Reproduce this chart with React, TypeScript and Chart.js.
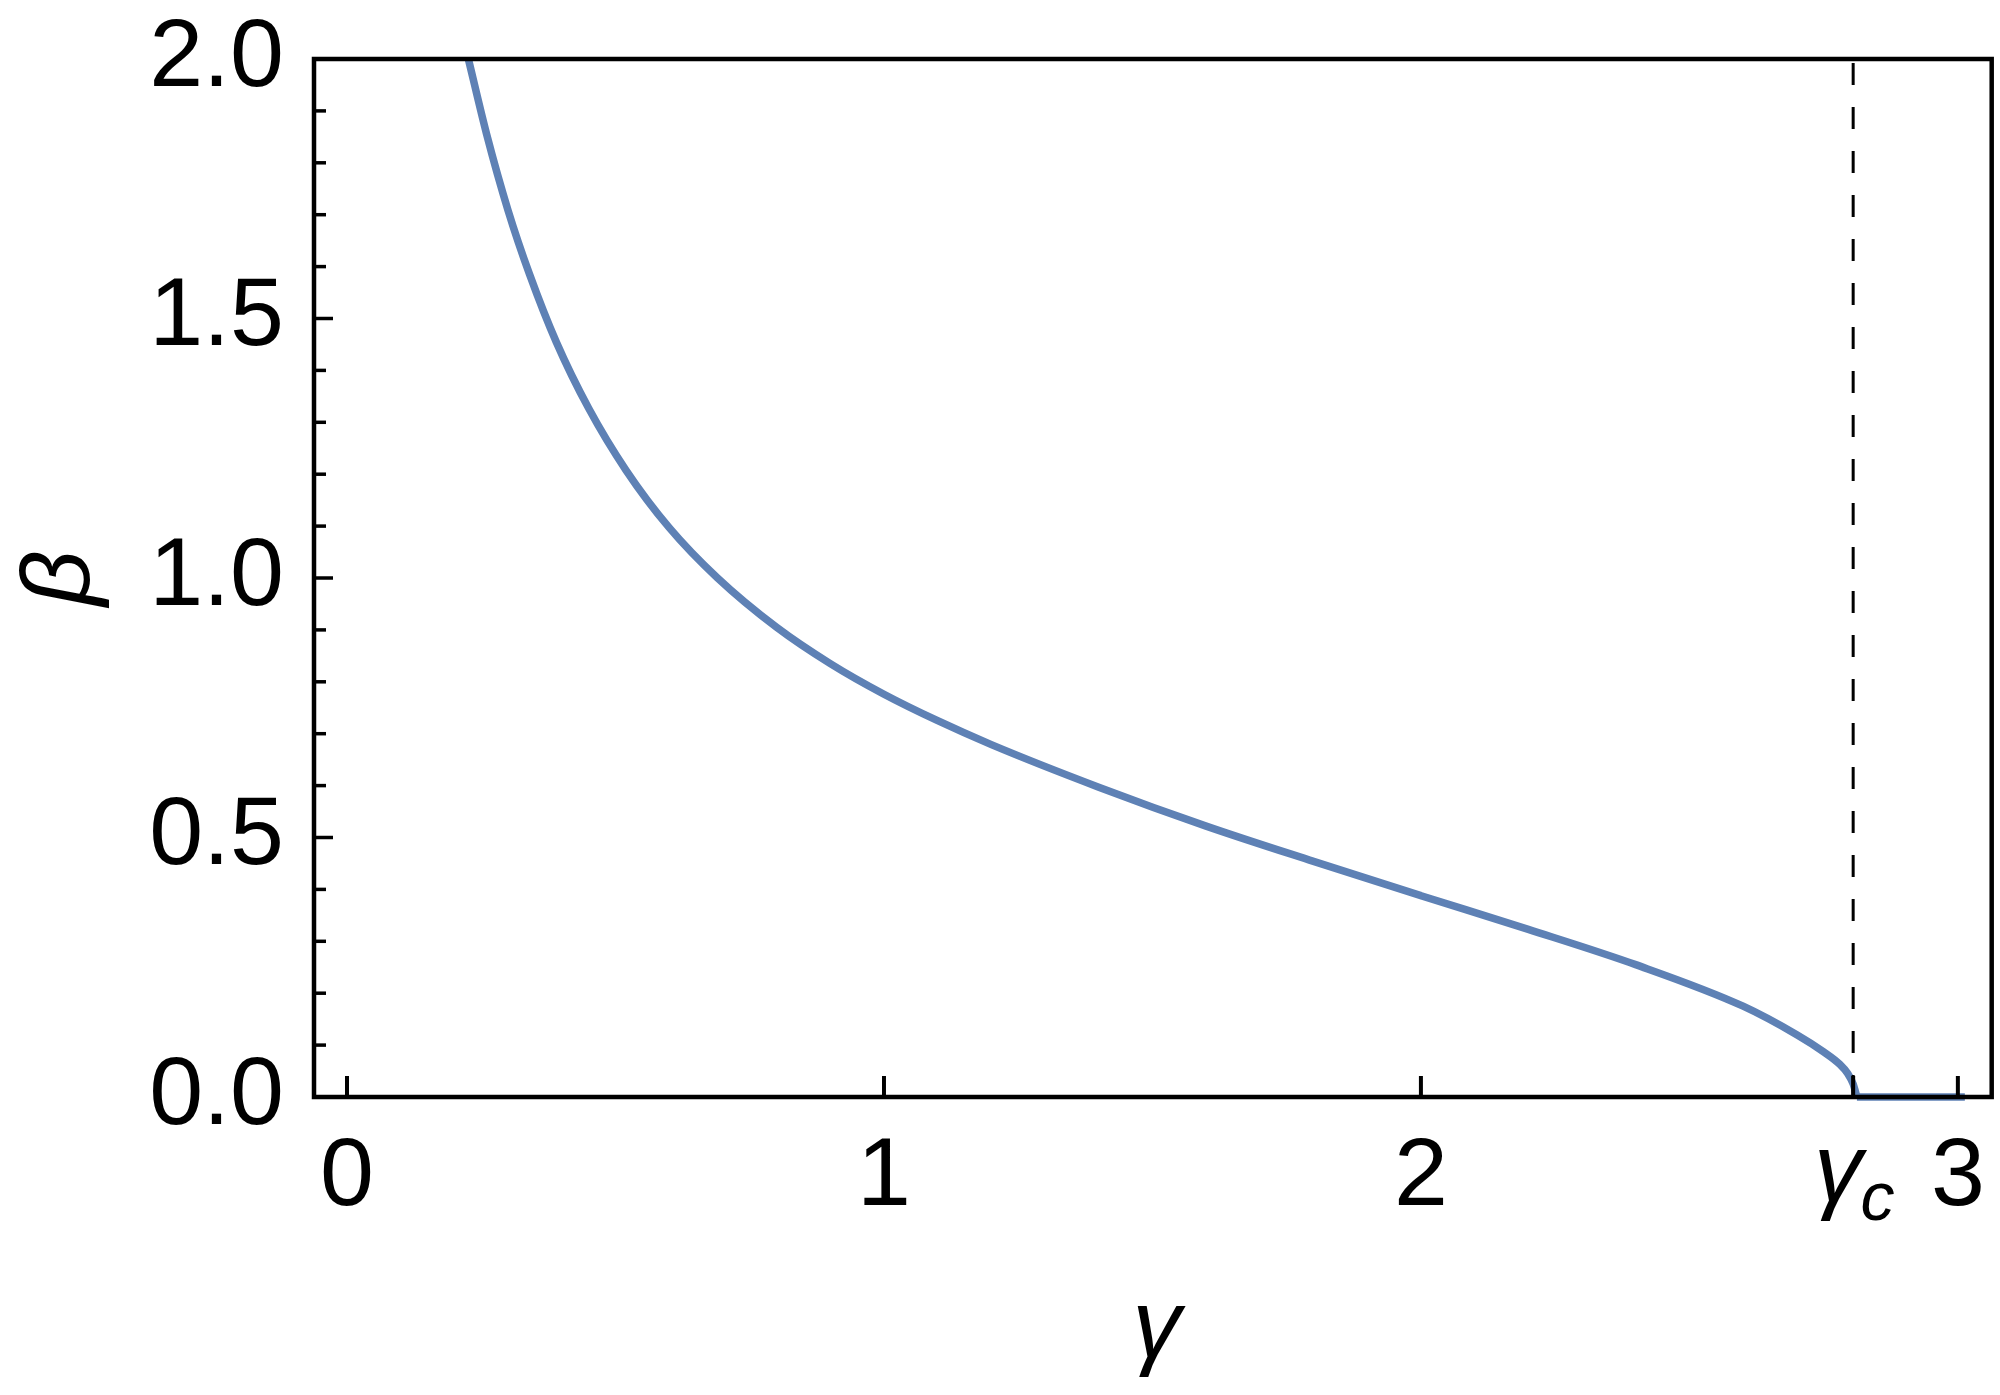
import React, { useEffect, useRef } from 'react';
import { Chart, registerables } from 'chart.js';

Chart.register(...registerables);

// ---- data ----
const gammaValues = [0.226, 0.26, 0.3, 0.34, 0.39, 0.45, 0.52, 0.6, 0.69, 0.8, 0.9, 1.0, 1.1, 1.2, 1.4, 1.6, 1.8, 2.0, 2.2, 2.4, 2.6, 2.7, 2.75, 2.78, 2.795, 2.805, 2.812];
const betaValues = [2.0, 1.855, 1.708, 1.585, 1.454, 1.327, 1.207, 1.097, 1.0, 0.905, 0.835, 0.776, 0.725, 0.679, 0.597, 0.522, 0.454, 0.388, 0.323, 0.255, 0.175, 0.12, 0.087, 0.063, 0.045, 0.025, 0];
const gammaTail = [2.812, 3.013];
const betaTail = [0, 0];
const gammaCritical = 2.805;

const xTickValues = [0, 1, 2, 3];
const xTickLabels = ['0', '1', '2', '3'];
const yTickValues = [0, 0.5, 1, 1.5, 2];
const yTickLabels = ['0.0', '0.5', '1.0', '1.5', '2.0'];
const yMinorStep = 0.1;

const xAxisTitle = 'γ';
const yAxisTitle = 'β';
const criticalMain = 'γ';
const criticalSub = 'c';

const X_MIN = -0.0615;
const X_MAX = 3.063;
const Y_MIN = 0;
const Y_MAX = 2;

const W = 2000;
const H = 1395;
const FONT = '"Liberation Sans", Arial, Helvetica, sans-serif';
const FONT_SIZE = 97;
const LINE_COLOR = '#5E81B5';

const decorPlugin = {
  id: 'decor',
  afterDatasetsDraw(chart: any) {
    const { ctx, chartArea: a, scales } = chart;
    const x = scales.x;
    const y = scales.y;
    ctx.save();
    ctx.strokeStyle = '#000';
    ctx.fillStyle = '#000';

    // dashed critical line
    const xc = x.getPixelForValue(gammaCritical);
    ctx.lineWidth = 3;
    ctx.setLineDash([22, 22]);
    ctx.beginPath();
    ctx.moveTo(xc, a.bottom);
    ctx.lineTo(xc, a.top);
    ctx.stroke();
    ctx.setLineDash([]);

    // y ticks (inward), major + minor
    ctx.lineWidth = 3.5;
    const n = Math.round((Y_MAX - Y_MIN) / yMinorStep);
    for (let i = 0; i <= n; i++) {
      const v = Y_MIN + i * yMinorStep;
      const isMajor = yTickValues.some((t) => Math.abs(t - v) < 1e-6);
      const py = y.getPixelForValue(v);
      ctx.beginPath();
      ctx.moveTo(a.left, py);
      ctx.lineTo(a.left + (isMajor ? 19 : 12), py);
      ctx.stroke();
    }

    // x ticks (inward)
    ctx.lineWidth = 4;
    [...xTickValues, gammaCritical].forEach((v) => {
      const px = x.getPixelForValue(v);
      ctx.beginPath();
      ctx.moveTo(px, a.bottom);
      ctx.lineTo(px, a.bottom - 21);
      ctx.stroke();
    });

    // frame
    ctx.lineWidth = 4.5;
    ctx.strokeRect(a.left, a.top, a.right - a.left, a.bottom - a.top);

    // gamma_c tick label
    const mainFont = `italic ${FONT_SIZE}px ${FONT}`;
    const subFont = `italic ${Math.round(FONT_SIZE * 0.7)}px ${FONT}`;
    ctx.font = mainFont;
    const wMain = ctx.measureText(criticalMain).width;
    ctx.font = subFont;
    const wSub = ctx.measureText(criticalSub).width;
    const start = xc - (wMain + wSub) / 2 + 2;
    ctx.textAlign = 'left';
    ctx.textBaseline = 'alphabetic';
    ctx.font = mainFont;
    ctx.fillText(criticalMain, start, a.bottom + 104);
    ctx.font = subFont;
    ctx.fillText(criticalSub, start + wMain - 2, a.bottom + 123);

    // axis titles
    ctx.font = mainFont;
    ctx.textAlign = 'center';
    ctx.fillText(xAxisTitle, (a.left + a.right) / 2 + 4, a.bottom + 260);

    ctx.save();
    ctx.translate(62, (a.top + a.bottom) / 2);
    ctx.rotate(-Math.PI / 2);
    ctx.textBaseline = 'middle';
    ctx.fillText(yAxisTitle, 0, 0);
    ctx.restore();

    ctx.restore();
  },
};

export default function App() {
  const ref = useRef<HTMLCanvasElement | null>(null);

  useEffect(() => {
    if (!ref.current) return;
    const curve = gammaValues.map((g, i) => ({ x: g, y: betaValues[i] }));
    const tail = gammaTail.map((g, i) => ({ x: g, y: betaTail[i] }));
    const chart = new Chart(ref.current, {
      type: 'line',
      data: {
        datasets: [
          {
            data: curve,
            borderColor: LINE_COLOR,
            borderWidth: 7.5,
            pointRadius: 0,
            fill: false,
            cubicInterpolationMode: 'monotone',
            clip: false as any,
          },
          {
            data: tail,
            borderColor: LINE_COLOR,
            borderWidth: 7.5,
            pointRadius: 0,
            fill: false,
            clip: false as any,
          },
        ],
      },
      options: {
        responsive: false,
        animation: false,
        devicePixelRatio: 1,
        layout: { padding: { top: 59, right: 8, left: 0, bottom: 0 } },
        plugins: { legend: { display: false }, tooltip: { enabled: false }, title: { display: false } },
        scales: {
          x: {
            type: 'linear',
            min: X_MIN,
            max: X_MAX,
            grid: { display: false },
            border: { display: false },
            afterBuildTicks: (scale: any) => {
              scale.ticks = xTickValues.map((v) => ({ value: v }));
            },
            afterFit: (scale: any) => {
              scale.height = 298;
            },
            ticks: {
              autoSkip: false,
              maxRotation: 0,
              padding: 15,
              color: '#000',
              font: { family: FONT, size: FONT_SIZE },
              callback: (value: any) => {
                const i = xTickValues.indexOf(Number(value));
                return i >= 0 ? xTickLabels[i] : '';
              },
            },
          },
          y: {
            type: 'linear',
            min: Y_MIN,
            max: Y_MAX,
            grid: { display: false },
            border: { display: false },
            afterBuildTicks: (scale: any) => {
              scale.ticks = yTickValues.map((v) => ({ value: v }));
            },
            afterFit: (scale: any) => {
              scale.width = 314;
            },
            ticks: {
              autoSkip: false,
              padding: 22,
              color: '#000',
              font: { family: FONT, size: FONT_SIZE, lineHeight: 0.5 },
              callback: (value: any) => {
                const i = yTickValues.findIndex((t) => Math.abs(t - Number(value)) < 1e-9);
                return i >= 0 ? yTickLabels[i] : '';
              },
            },
          },
        },
      },
      plugins: [decorPlugin],
    });
    return () => chart.destroy();
  }, []);

  return (
    <div style={{ position: 'absolute', left: 0, top: 0, width: W, height: H, background: '#fff' }}>
      <canvas ref={ref} width={W} height={H} style={{ width: W, height: H, display: 'block' }} />
    </div>
  );
}
